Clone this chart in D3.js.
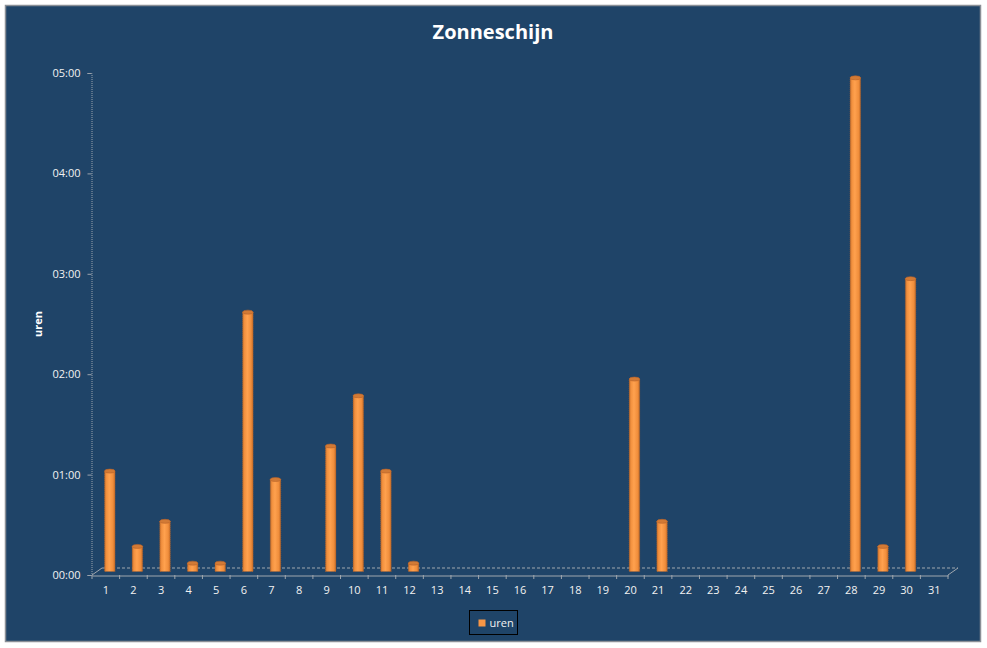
<!DOCTYPE html>
<html>
<head>
<meta charset="utf-8">
<script src="https://cdn.jsdelivr.net/npm/d3@7"></script>
<style>
  body { margin: 0; background: #ffffff; }
  text { font-family: "Open Sans", "DejaVu Sans", sans-serif; }
</style>
</head>
<body>
<div id="chart"></div>
<script>
// Zonneschijn per dag (minuten)
var days = d3.range(1, 32);
var minutes = [60, 15, 30, 5, 5, 155, 55, 0, 75, 105, 60, 5, 0, 0, 0, 0, 0, 0, 0,
               115, 30, 0, 0, 0, 0, 0, 0, 295, 15, 175, 0];
var yTicks = [0, 60, 120, 180, 240, 300];
var seriesName = "uren";

var svgWidth = 987;
var svgHeight = 648;

var svg = d3.select("#chart")
    .append("svg")
    .attr("width", svgWidth)
    .attr("height", svgHeight);

// chart background with grey border
svg.append("rect")
    .attr("x", 5.5)
    .attr("y", 5.5)
    .attr("width", 975)
    .attr("height", 636)
    .attr("fill", "#1f4468")
    .attr("stroke", "#8a8f96")
    .attr("stroke-width", 1.5);

var defs = svg.append("defs");
var grad = defs.append("linearGradient")
    .attr("id", "cyl")
    .attr("x1", "0%").attr("x2", "100%")
    .attr("y1", "0%").attr("y2", "0%");
grad.append("stop").attr("offset", "0%").attr("stop-color", "#c9712c");
grad.append("stop").attr("offset", "18%").attr("stop-color", "#f2913f");
grad.append("stop").attr("offset", "45%").attr("stop-color", "#ffa14e");
grad.append("stop").attr("offset", "80%").attr("stop-color", "#f08e3c");
grad.append("stop").attr("offset", "100%").attr("stop-color", "#c46c28");

var depthX = 10;
var depthY = 7;

// scales
var xScale = d3.scaleBand()
    .domain(days)
    .range([92, 948])
    .paddingInner(0.62)
    .paddingOuter(0.31);
var yScale = d3.scaleLinear()
    .domain([0, 300])
    .range([575, 73]);

var fmt = function(m) {
    return d3.format("02")(Math.floor(m / 60)) + ":" + d3.format("02")(m % 60);
};

// y axis
var yAxis = d3.axisLeft(yScale)
    .tickValues(yTicks)
    .tickFormat(fmt)
    .tickSize(4)
    .tickPadding(7);
var yG = svg.append("g")
    .attr("transform", "translate(91.5,0)")
    .call(yAxis);
yG.select(".domain").attr("stroke", "#9aa3ad").attr("stroke-dasharray", "1,1");
yG.selectAll(".tick line").attr("stroke", "#9aa3ad");
yG.selectAll(".tick text")
    .attr("fill", "#f2f2f2")
    .style("font-size", "11px");

// floor of the 3D plot
var x0 = xScale.range()[0];
var x1 = xScale.range()[1];
var y0 = yScale(0);
svg.append("line")
    .attr("x1", x0 + depthX).attr("y1", y0 - depthY)
    .attr("x2", x1 + depthX).attr("y2", y0 - depthY)
    .attr("stroke", "#a0a7ae")
    .attr("stroke-dasharray", "3,2");
svg.append("path")
    .attr("d", "M" + x0 + "," + y0 + "L" + (x0 + depthX) + "," + (y0 - depthY))
    .attr("stroke", "#a0a7ae")
    .attr("fill", "none");
svg.append("path")
    .attr("d", "M" + x1 + "," + y0 + "L" + (x1 + depthX) + "," + (y0 - depthY))
    .attr("stroke", "#a0a7ae")
    .attr("fill", "none");

// x axis
var xAxis = d3.axisBottom(xScale)
    .tickSize(0)
    .tickPadding(11);
var xG = svg.append("g")
    .attr("transform", "translate(0," + (y0 + 0.5) + ")")
    .call(xAxis);
xG.select(".domain").attr("stroke", "#a0a7ae");
xG.selectAll(".tick text")
    .attr("fill", "#f2f2f2")
    .style("font-size", "11px");
// tick marks between categories
var step = xScale.step();
svg.append("g")
    .selectAll("line")
    .data(d3.range(0, 32))
    .join("line")
    .attr("x1", function(i) { return x0 + i * step; })
    .attr("x2", function(i) { return x0 + i * step; })
    .attr("y1", y0)
    .attr("y2", y0 + 4)
    .attr("stroke", "#a0a7ae");

// cylinders
var bw = xScale.bandwidth();
var bars = svg.append("g")
    .selectAll("g.bar")
    .data(days.map(function(d, i) { return { day: d, value: minutes[i] }; })
        .filter(function(d) { return d.value > 0; }))
    .join("g")
    .attr("class", "bar")
    .attr("transform", "translate(" + (depthX / 2 - 1) + "," + (-depthY / 2) + ")");

bars.append("rect")
    .attr("x", function(d) { return xScale(d.day); })
    .attr("y", function(d) { return yScale(d.value); })
    .attr("width", bw)
    .attr("height", function(d) { return y0 - yScale(d.value); })
    .attr("fill", "url(#cyl)")
    .attr("stroke", "#b8632a")
    .attr("stroke-width", 0.6)
    .attr("stroke-dasharray", "1,1");

bars.append("ellipse")
    .attr("cx", function(d) { return xScale(d.day) + bw / 2; })
    .attr("cy", function(d) { return yScale(d.value); })
    .attr("rx", bw / 2)
    .attr("ry", 2)
    .attr("fill", "#d27a35")
    .attr("stroke", "#b8632a")
    .attr("stroke-width", 0.6);

// title
svg.append("text")
    .attr("x", 493)
    .attr("y", 39)
    .attr("text-anchor", "middle")
    .attr("fill", "#ffffff")
    .style("font-size", "20px")
    .style("font-weight", "bold")
    .text("Zonneschijn");

// y axis label
svg.append("text")
    .attr("transform", "translate(42,324) rotate(-90)")
    .attr("text-anchor", "middle")
    .attr("fill", "#ffffff")
    .style("font-size", "11px")
    .style("font-weight", "bold")
    .text(seriesName);

// legend
var legend = svg.append("g").attr("transform", "translate(469.5,610.5)");
legend.append("rect")
    .attr("width", 48)
    .attr("height", 24)
    .attr("fill", "none")
    .attr("stroke", "#000000");
legend.append("rect")
    .attr("x", 9)
    .attr("y", 9)
    .attr("width", 7)
    .attr("height", 7)
    .attr("fill", "#f79646");
legend.append("text")
    .attr("x", 20)
    .attr("y", 16.5)
    .attr("fill", "#f2f2f2")
    .style("font-size", "11px")
    .text(seriesName);
</script>
</body>
</html>
